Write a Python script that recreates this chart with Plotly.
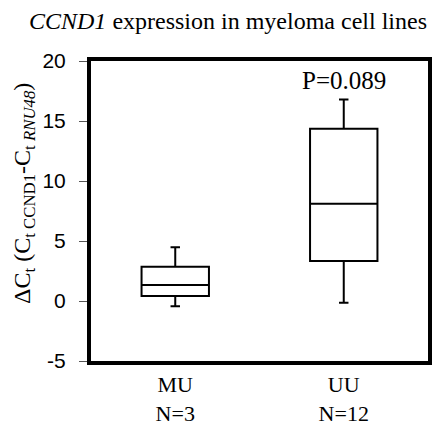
import plotly.graph_objects as go

groups = ["MU", "UU"]
group_labels = ["MU<br>N=3", "UU<br>N=12"]
lower_whisker = [-0.44, -0.14]
q1 = [0.42, 3.33]
median = [1.33, 8.11]
q3 = [2.86, 14.36]
upper_whisker = [4.47, 16.8]
y_ticks = [-5, 0, 5, 10, 15, 20]
y_tick_text = ["-5", "0", "5", "10", "15", "20"]
p_label = "P=0.089"
p_y = 18.4
y_title = "ΔC<sub>t</sub> (C<sub>t CCND1</sub>-C<sub>t <i>RNU48</i></sub>)"

serif = "Liberation Serif"
sans = "Liberation Sans"

fig = go.Figure()
fig.add_trace(go.Box(
    x=groups,
    q1=q1, median=median, q3=q3,
    lowerfence=lower_whisker, upperfence=upper_whisker,
    fillcolor="white",
    line=dict(color="black", width=2),
    width=0.4,
    whiskerwidth=0.14,
    boxpoints=False,
    showlegend=False,
    hoverinfo="skip",
))

fig.add_annotation(x=groups[1], y=p_y, text=p_label, showarrow=False,
                   font=dict(family=serif, size=25, color="black"),
                   xanchor="center", yanchor="middle")

fig.add_annotation(xref="paper", yref="paper", x=0, y=0.557, xshift=-67,
                   text=y_title, textangle=-90, showarrow=False,
                   xanchor="center", yanchor="middle",
                   font=dict(family=serif, size=24, color="black"))

fig.update_layout(
    template="none",
    width=440, height=425,
    margin=dict(l=83, r=20, t=53, b=72),
    paper_bgcolor="white", plot_bgcolor="white",
    font=dict(family=serif, color="black"),
    title=dict(text="<i>CCND1</i> expression in myeloma cell lines",
               x=0.5, xanchor="center", y=1.0, yanchor="top",
               pad=dict(t=4),
               font=dict(family=serif, size=24, color="black")),
    xaxis=dict(
        tickmode="array", tickvals=groups, ticktext=group_labels,
        range=[-0.5, 1.5], automargin=False,
        showline=True, linewidth=4, linecolor="black", mirror=True,
        ticks="", showgrid=False, zeroline=False,
        tickfont=dict(family=serif, size=22, color="black"),
        ticklabelstandoff=1,
    ),
    yaxis=dict(
        range=[-5, 20], tickvals=y_ticks, ticktext=y_tick_text,
        automargin=False,
        showline=True, linewidth=4, linecolor="black", mirror=True,
        ticks="outside", ticklen=8, tickwidth=1, tickcolor="#555",
        showgrid=False, zeroline=False,
        tickfont=dict(family=sans, size=21, color="black"),
        ticklabelstandoff=9,
    ),
)

fig.write_html("out.html")
